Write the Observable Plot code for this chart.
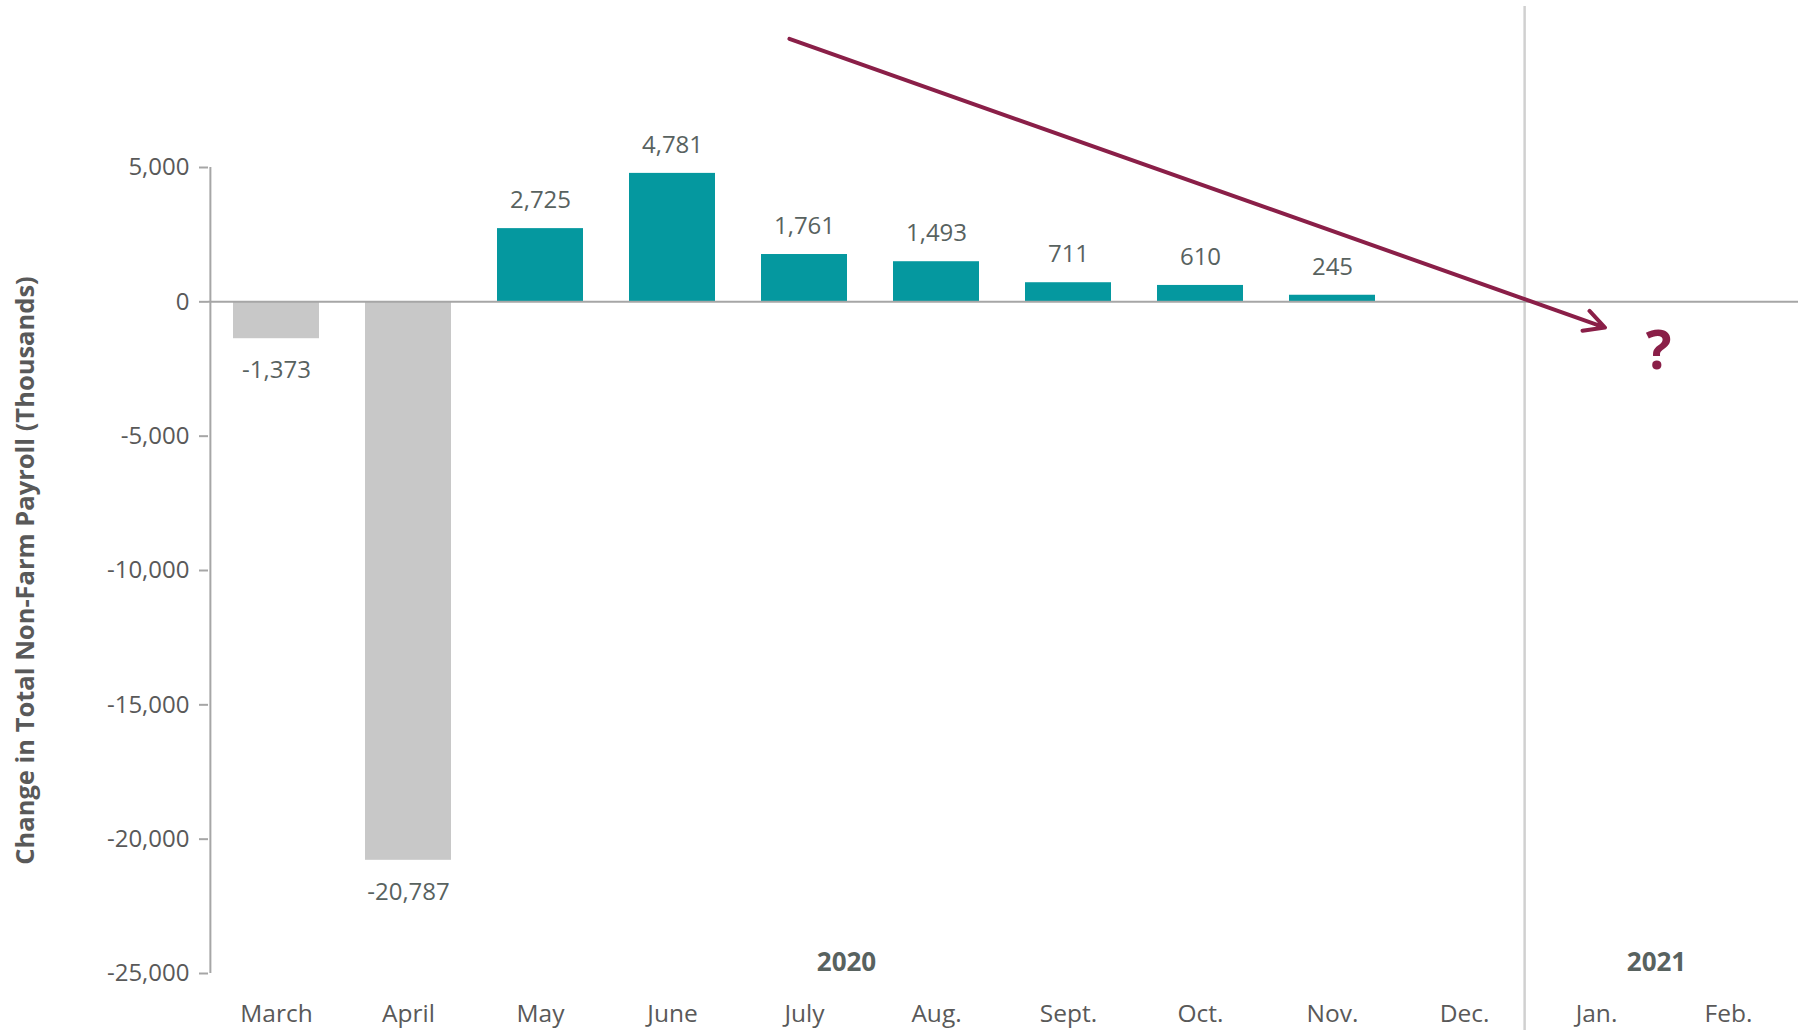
<!DOCTYPE html>
<html><head><meta charset="utf-8">
<script src="https://cdn.jsdelivr.net/npm/d3@7"></script>
<script src="https://cdn.jsdelivr.net/npm/@observablehq/plot@0.6"></script>
<style>body{margin:0;background:#fff;} svg{display:block;}</style>
</head><body><div id="chart"></div>
<script>
const months = ["March","April","May","June","July","Aug.","Sept.","Oct.","Nov.","Dec.","Jan.","Feb."];
const values = [-1373, -20787, 2725, 4781, 1761, 1493, 711, 610, 245, null, null, null];
const yTicks = [5000, 0, -5000, -10000, -15000, -20000, -25000];
const years = ["2020", "2021"];
const yearMonths = ["July", "Jan."];
const yearValue = -24600;
const arrowMonths = ["July", "Jan."];
const arrowValues = [9590, -845];
const questionMonth = "Jan.";
const questionValue = -1870;
const yTitle = "Change in Total Non-Farm Payroll (Thousands)";

const W = 1801, H = 1030, mL = 208, mR = 6, mT = 167, mB = 57;
const step = (W - mL - mR) / months.length;
const font = "'Open Sans', 'Noto Sans', sans-serif";
const teal = "#05989f", grayBar = "#c8c8c8", maroon = "#8a1f48";
const txt = "#58625f", axisTxt = "#595959", lineGray = "#a6a6a6";

const data = months.map((m, i) => ({month: m, value: values[i]})).filter(d => d.value != null);
const arrowData = [{m1: arrowMonths[0], v1: arrowValues[0], m2: arrowMonths[1], v2: arrowValues[1]}];
const fmt = d => d.toLocaleString("en-US");

const chart = Plot.plot({
  width: W, height: H,
  marginLeft: mL, marginRight: mR, marginTop: mT, marginBottom: mB,
  style: {fontFamily: font, background: "#fff"},
  x: {domain: months, paddingInner: 0.35, paddingOuter: 0.175, align: 0.5, label: null},
  y: {domain: [-25000, 5000], label: null},
  marks: [
    Plot.ruleX(["Dec."], {dx: step / 2 - 6, stroke: "#d0d0d0", strokeWidth: 2.5, insetTop: -161, insetBottom: -mB}),
    Plot.barY(data, {x: "month", y: "value", fill: d => d.value < 0 ? grayBar : teal}),
    Plot.ruleY([0], {stroke: lineGray, strokeWidth: 2, insetRight: -3}),
    Plot.ruleX(["March"], {dx: -step / 2, stroke: lineGray, strokeWidth: 2}),
    Plot.axisY({ticks: yTicks, tickFormat: fmt, tickSize: 9, tickPadding: 10, fontSize: 24, fill: axisTxt, stroke: lineGray, strokeWidth: 2, label: null}),
    Plot.axisX({tickSize: 0, tickPadding: 31, fontSize: 24.5, fill: axisTxt, label: null}),
    Plot.text(data.filter(d => d.value >= 0), {x: "month", y: "value", text: d => fmt(d.value), dy: -28, lineAnchor: "middle", fontSize: 24, fill: txt}),
    Plot.text(data.filter(d => d.value < 0), {x: "month", y: "value", text: d => fmt(d.value), dy: 32, lineAnchor: "middle", fontSize: 24, fill: txt}),
    Plot.text([years[0]], {x: [yearMonths[0]], y: [yearValue], dx: 42, fontSize: 26, fontWeight: "bold", fill: txt, lineAnchor: "middle"}),
    Plot.text([years[1]], {x: [yearMonths[1]], y: [yearValue], dx: 60, fontSize: 26, fontWeight: "bold", fill: txt, lineAnchor: "middle"}),
    Plot.arrow(arrowData, {x1: "m1", y1: "v1", x2: "m2", y2: "v2", stroke: maroon, strokeWidth: 4, headLength: 8.5, headAngle: 55, insetStart: -16, insetEnd: -9}),
    Plot.text(["?"], {x: [questionMonth], y: [questionValue], dx: 62, fontSize: 54, fontWeight: "bold", fill: maroon, lineAnchor: "middle"}),
    Plot.text([yTitle], {frameAnchor: "left", rotate: -90, dx: -183, fontSize: 25.5, fontWeight: "bold", fill: axisTxt, textAnchor: "middle", lineAnchor: "middle"})
  ]
});
document.getElementById("chart").appendChild(chart);
</script>
</body></html>
